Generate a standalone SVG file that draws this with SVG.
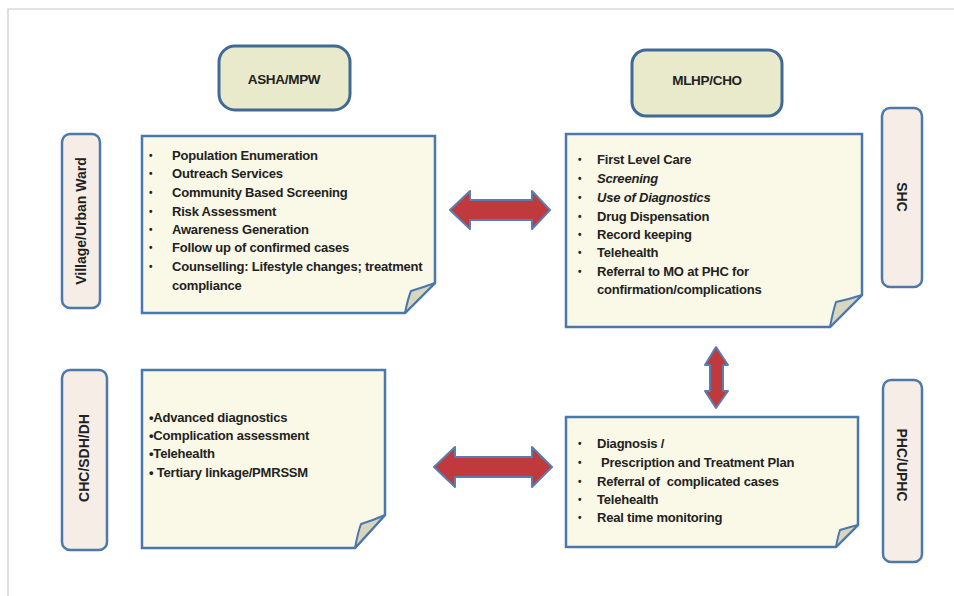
<svg xmlns="http://www.w3.org/2000/svg" width="954" height="596" viewBox="0 0 954 596">
<style>
  .t{font-family:"Liberation Sans",Arial,sans-serif;font-size:13px;font-weight:bold;fill:#222;letter-spacing:-0.2px}
  .b{font-size:10px}
  .i{font-style:italic}
  .lab{font-family:"Liberation Sans",Arial,sans-serif;font-size:14px;font-weight:bold;fill:#222;text-anchor:middle;dominant-baseline:central}
  .ttl{font-family:"Liberation Sans",Arial,sans-serif;font-size:13.5px;font-weight:bold;fill:#222;text-anchor:middle;dominant-baseline:central;letter-spacing:-0.3px}
  .card{fill:#FAF8E6;stroke:#4A78AC;stroke-width:2.5}
  .fold{fill:#D9D6C0;stroke:#4A78AC;stroke-width:2;stroke-linejoin:round}
  .side{fill:#F6EEE6;stroke:#4C79A8;stroke-width:2.5}
  .title{fill:#E9EACB;stroke:#3F6A96;stroke-width:3}
  .arr{fill:#C0393D;stroke:#5A7DB0;stroke-width:2;stroke-linejoin:round}
</style>
<rect x="0" y="0" width="954" height="596" fill="#ffffff"/>
<path d="M8,596 V9 H954" fill="none" stroke="#C8C8C8" stroke-width="1.2"/>

<g id="asha-mpw">
  <rect class="title" x="219" y="46" width="131" height="64" rx="16"/>
  <text class="ttl" x="284" y="79">ASHA/MPW</text>
</g>
<g id="mlhp-cho">
  <rect class="title" x="632" y="50" width="150" height="66" rx="14"/>
  <text class="ttl" x="707" y="80">MLHP/CHO</text>
</g>

<g id="village-urban-ward">
  <rect class="side" x="62" y="134" width="38" height="174" rx="8"/>
  <text class="lab" transform="translate(81,221) rotate(-90)">Village/Urban Ward</text>
</g>
<g id="shc">
  <rect class="side" x="882" y="108" width="40" height="179" rx="8"/>
  <text class="lab" transform="translate(902,197) rotate(90)">SHC</text>
</g>
<g id="chc-sdh-dh">
  <rect class="side" x="62" y="370" width="45" height="180" rx="8"/>
  <text class="lab" transform="translate(84,458) rotate(-90)">CHC/SDH/DH</text>
</g>
<g id="phc-uphc">
  <rect class="side" x="883" y="380" width="39" height="182" rx="8"/>
  <text class="lab" transform="translate(902,465) rotate(90)">PHC/UPHC</text>
</g>

<g id="card-asha">
  <path class="card" d="M142,136 H435 V283 L405,313 H142 Z"/>
  <path class="fold" d="M405,313 Q408,298 411,291 Q424,287 435,283 Z"/>
  <g class="t">
    <text class="b" x="149" y="159">•</text><text x="172" y="160">Population Enumeration</text>
    <text class="b" x="149" y="177">•</text><text x="172" y="178">Outreach Services</text>
    <text class="b" x="149" y="196">•</text><text x="172" y="197">Community Based Screening</text>
    <text class="b" x="149" y="215">•</text><text x="172" y="216">Risk Assessment</text>
    <text class="b" x="149" y="233">•</text><text x="172" y="234">Awareness Generation</text>
    <text class="b" x="149" y="251">•</text><text x="172" y="252">Follow up of confirmed cases</text>
    <text class="b" x="149" y="270">•</text><text x="172" y="271">Counselling: Lifestyle changes; treatment</text>
    <text x="172" y="290">compliance</text>
  </g>
</g>

<g id="card-shc">
  <path class="card" d="M566,134 H862 V295 L830,327 H566 Z"/>
  <path class="fold" d="M830,327 Q833,311 836,302 Q850,299 862,295 Z"/>
  <g class="t">
    <text class="b" x="578" y="163">•</text><text x="597" y="164">First Level Care</text>
    <text class="b" x="578" y="182">•</text><text class="i" x="597" y="183">Screening</text>
    <text class="b" x="578" y="201">•</text><text class="i" x="597" y="202">Use of Diagnostics</text>
    <text class="b" x="578" y="220">•</text><text x="597" y="221">Drug Dispensation</text>
    <text class="b" x="578" y="238">•</text><text x="597" y="239">Record keeping</text>
    <text class="b" x="578" y="256">•</text><text x="597" y="257">Telehealth</text>
    <text class="b" x="578" y="275">•</text><text x="597" y="276">Referral to MO at PHC for</text>
    <text x="597" y="294">confirmation/complications</text>
  </g>
</g>

<g id="card-chc">
  <path class="card" d="M142,370 H385 V515 L355,548 H142 Z"/>
  <path class="fold" d="M355,548 Q358,532 361,524 Q374,520 385,515 Z"/>
  <g class="t">
    <text x="149" y="422">•Advanced diagnostics</text>
    <text x="149" y="440">•Complication assessment</text>
    <text x="149" y="458">•Telehealth</text>
    <text x="149" y="477" xml:space="preserve">• Tertiary linkage/PMRSSM</text>
  </g>
</g>

<g id="card-phc">
  <path class="card" d="M566,417 H858 V525 L836,547 H566 Z"/>
  <path class="fold" d="M836,547 Q838,536 840,530 Q850,527 858,525 Z"/>
  <g class="t">
    <text class="b" x="578" y="447">•</text><text x="597" y="448">Diagnosis /</text>
    <text class="b" x="578" y="466">•</text><text x="601" y="467">Prescription and Treatment Plan</text>
    <text class="b" x="578" y="485">•</text><text x="597" y="486" xml:space="preserve">Referral of  complicated cases</text>
    <text class="b" x="578" y="503">•</text><text x="597" y="504">Telehealth</text>
    <text class="b" x="578" y="521">•</text><text x="597" y="522">Real time monitoring</text>
  </g>
</g>

<g id="connectors">
  <polygon class="arr" points="450,210 470,191 470,200 532,200 532,191 550,210 532,229 532,220 470,220 470,229"/>
  <polygon class="arr" points="434,467 455,447 455,457 532,457 532,447 552,467 532,487 532,477 455,477 455,487"/>
  <polygon class="arr" points="716,347 728,365 723,365 723,391 728,391 716,408 705,391 710,391 710,365 705,365"/>
</g>
</svg>
